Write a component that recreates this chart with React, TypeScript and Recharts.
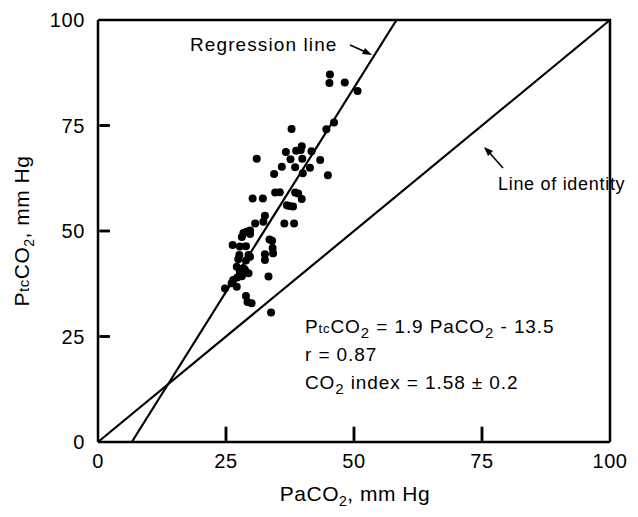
import React from 'react';
import {
    ScatterChart,
    Scatter,
    XAxis,
    YAxis,
    ReferenceLine
} from 'recharts';

// PaCO2 (x) vs PtcCO2 (y)
const paco2 = [
    45.3, 45.2, 48.2, 50.7, 46.1, 44.6, 37.8, 31.0, 36.7, 38.7,
    39.8, 39.6, 41.7, 37.6, 35.9, 38.5, 41.4, 43.4, 34.4, 44.9,
    40.0, 34.6, 35.5, 38.5, 39.1, 30.2, 32.2, 39.8, 37.4, 38.1,
    32.6, 32.3, 30.7, 36.4, 38.3, 29.7, 29.0, 28.4, 28.1, 29.7,
    33.5, 34.0, 26.3, 27.7, 28.9, 34.1, 34.2, 27.6, 29.4, 29.7,
    32.6, 32.6, 27.4, 28.9, 27.1, 28.4, 27.7, 28.7, 29.4, 28.1,
    33.3, 27.2, 26.4, 26.1, 27.1, 24.8, 28.9, 29.2, 30.0, 33.8,
    36.9, 39.9
];
const ptcco2 = [
    87.1, 85.1, 85.2, 83.2, 75.7, 74.1, 74.2, 67.1, 68.7, 69.0,
    70.1, 69.2, 68.9, 67.0, 65.2, 65.1, 65.0, 66.8, 63.5, 63.2,
    63.7, 59.1, 59.2, 59.1, 58.9, 57.7, 57.7, 57.6, 55.9, 55.8,
    53.6, 52.2, 51.8, 51.8, 51.8, 50.1, 49.8, 49.5, 48.6, 49.3,
    48.0, 47.7, 46.7, 46.3, 46.4, 46.0, 44.7, 44.3, 44.3, 43.9,
    44.5, 43.1, 43.3, 43.0, 41.5, 41.2, 40.4, 40.8, 40.0, 39.3,
    39.2, 39.0, 38.4, 37.6, 36.8, 36.4, 34.6, 33.2, 32.9, 30.7,
    56.1, 67.1
];
const axisTicks = [0, 25, 50, 75, 100];
const regressionLine = [{ x: 6.6, y: 0 }, { x: 58.3, y: 100 }];
const identityLine = [{ x: 0, y: 0 }, { x: 100, y: 100 }];
const framePath = [{ x: 0, y: 100 }, { x: 100, y: 100 }, { x: 100, y: 0 }];

const FONT = '"Liberation Sans", Arial, Helvetica, sans-serif';
const tickStyle = { fontSize: 20, fontFamily: FONT, fill: '#000', letterSpacing: 0.6 };
const frame = { stroke: '#000', strokeWidth: 2.5 };
const markStyle = { stroke: '#000', strokeWidth: 2.5 };

const Dot = (p: any) => <circle cx={p.cx} cy={p.cy} r={4} fill="#000" />;
const NoShape = () => <g />;

// inward tick marks as two-point segments
const xMark = (t: number) => [{ x: t, y: 0.3 }, { x: t, y: 3.6 }];
const yMark = (t: number) => [{ x: 0.3, y: t }, { x: 2.3, y: t }];

const App = () => {
    const points = paco2.map((x, i) => ({ x, y: ptcco2[i] }));
    return (
        <div style={{ position: 'relative', width: 630, height: 509, fontFamily: FONT }}>
            <ScatterChart width={630} height={509} margin={{ top: 12, right: 28, left: 30, bottom: 35 }}>
                <XAxis type="number" dataKey="x" domain={[0, 100]} ticks={axisTicks} height={40}
                    tickSize={0} tickMargin={12} tickLine={false} tick={tickStyle} axisLine={frame} />
                <YAxis type="number" dataKey="y" domain={[0, 100]} ticks={axisTicks} width={60}
                    tickSize={0} tickMargin={13} tickLine={false} tick={tickStyle} axisLine={frame} />
                <ReferenceLine segment={identityLine} stroke="#000" strokeWidth={2.2} />
                <ReferenceLine segment={regressionLine} stroke="#000" strokeWidth={2.2} />
                <ReferenceLine segment={xMark(25)} {...markStyle} />
                <ReferenceLine segment={xMark(50)} {...markStyle} />
                <ReferenceLine segment={xMark(75)} {...markStyle} />
                <ReferenceLine segment={yMark(25)} {...markStyle} />
                <ReferenceLine segment={yMark(50)} {...markStyle} />
                <ReferenceLine segment={yMark(75)} {...markStyle} />
                <Scatter data={framePath} line={frame} shape={<NoShape />} isAnimationActive={false} />
                <Scatter data={xMark(25)} line={markStyle} shape={<NoShape />} isAnimationActive={false} />
                <Scatter data={xMark(50)} line={markStyle} shape={<NoShape />} isAnimationActive={false} />
                <Scatter data={xMark(75)} line={markStyle} shape={<NoShape />} isAnimationActive={false} />
                <Scatter data={yMark(25)} line={markStyle} shape={<NoShape />} isAnimationActive={false} />
                <Scatter data={yMark(50)} line={markStyle} shape={<NoShape />} isAnimationActive={false} />
                <Scatter data={yMark(75)} line={markStyle} shape={<NoShape />} isAnimationActive={false} />
                <Scatter data={points} shape={<Dot />} isAnimationActive={false} />
            </ScatterChart>
            <svg width={630} height={509} style={{ position: 'absolute', left: 0, top: 0, pointerEvents: 'none' }}
                fontFamily={FONT} fill="#000">
                <text x={182} y={43} fontSize={19} letterSpacing={1.1}>Regression line</text>
                <line x1={342} y1={37} x2={360} y2={45} stroke="#000" strokeWidth={1.6} />
                <polygon points="364,47 354,46 357,40" fill="#000" />
                <text x={490} y={182} fontSize={18} letterSpacing={0.7}>Line of identity</text>
                <line x1={495} y1={160} x2={479} y2={142} stroke="#000" strokeWidth={1.6} />
                <polygon points="476,139 480,148 485,143" fill="#000" />
                <g fontSize={19} letterSpacing={0.9}>
                    <text x={297} y={325}>
                        P<tspan fontSize={13}>tc</tspan>CO<tspan fontSize={15} dy={5}>2</tspan>
                        <tspan dy={-5}> = 1.9 PaCO</tspan><tspan fontSize={15} dy={5}>2</tspan>
                        <tspan dy={-5}> - 13.5</tspan>
                    </text>
                    <text x={297} y={353}>r = 0.87</text>
                    <text x={297} y={381}>
                        CO<tspan fontSize={15} dy={5}>2</tspan><tspan dy={-5}> index = 1.58 ± 0.2</tspan>
                    </text>
                </g>
                <text x={347} y={493} fontSize={21} letterSpacing={0.5} textAnchor="middle">
                    PaCO<tspan fontSize={14} dy={5}>2</tspan><tspan dy={-5}>, mm Hg</tspan>
                </text>
                <text transform="translate(21,223) rotate(-90)" fontSize={21} letterSpacing={0.5} textAnchor="middle">
                    P<tspan fontSize={15}>tc</tspan>CO<tspan fontSize={14} dy={5}>2</tspan><tspan dy={-5}>, mm Hg</tspan>
                </text>
            </svg>
        </div>
    );
};

export default App;
